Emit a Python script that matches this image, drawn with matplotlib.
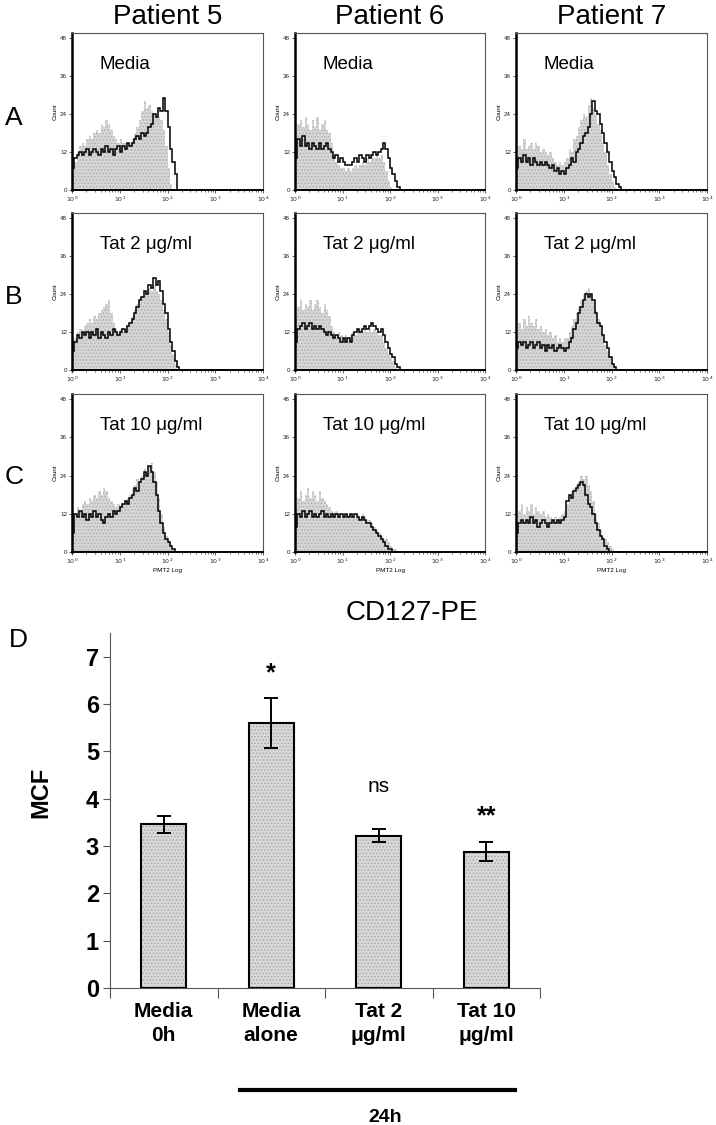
import numpy as np
import matplotlib
matplotlib.use('Agg')
import matplotlib.pyplot as plt
from matplotlib import font_manager as fm
from matplotlib.ticker import LogLocator, NullFormatter, FixedLocator

names = {f.name for f in fm.fontManager.ttflist}
SANS = 'Liberation Sans' if 'Liberation Sans' in names else 'DejaVu Sans'
NARROW = 'Liberation Sans Narrow' if 'Liberation Sans Narrow' in names else SANS
plt.rcParams['font.family'] = [SANS, 'DejaVu Sans']
plt.rcParams['hatch.linewidth'] = 0.7

# ---------------- data ----------------
patients = ['Patient 5', 'Patient 6', 'Patient 7']
row_letters = ['A', 'B', 'C']
conditions = ['Media', 'Tat 2 μg/ml', 'Tat 10 μg/ml']
bin_width_dec = 0.05          # histogram channel width in log10 decades
hist_ticks_y = [0, 12, 24, 36, 48]

gray_A5 = [7,9,12,14,15,14,16,17,16,18,19,18,21,20,22,21,19,17,16,15,16,15,15,14,15,16,18,20,22,25,28,26,27,25,24,23,23,22,19,14,7,2,0,0,0]
black_A5 = [7,10,11,12,11,12,13,11,12,13,12,11,13,12,14,12,13,11,13,14,12,14,13,15,14,15,16,17,16,18,17,18,20,21,24,23,26,25,29,25,20,13,9,5,0]
gray_A6 = [18,21,22,20,23,21,19,22,20,23,19,21,22,19,18,15,11,9,8,7,7,6,7,6,7,8,7,8,9,8,10,9,11,10,11,10,11,9,6,3,1,0,0,0,0]
black_A6 = [10,16,14,17,14,15,13,15,14,13,15,13,14,15,13,12,10,11,9,10,9,8,8,8,9,10,9,11,10,9,11,10,11,12,11,12,13,15,13,10,7,5,3,1,0]
gray_A7 = [11,14,13,16,13,14,15,13,15,14,12,13,12,11,12,10,9,8,9,8,9,10,13,12,16,17,20,22,24,23,27,29,26,24,21,19,15,12,8,5,3,1,0,0,0]
black_A7 = [7,10,9,11,9,10,8,10,9,8,9,8,9,8,7,8,6,7,5,6,5,7,8,10,9,12,13,15,17,18,20,24,28,25,24,21,18,15,12,9,6,4,2,1,0]
gray_B5 = [8,10,12,13,12,14,15,16,15,17,16,18,19,20,21,22,18,15,13,12,13,12,13,14,15,17,19,21,22,23,24,25,26,25,27,25,24,22,19,16,12,8,5,2,0]
black_B5 = [6,9,11,10,12,11,12,10,12,11,13,10,12,11,10,12,11,13,12,11,12,13,12,14,15,16,18,20,22,23,25,24,27,26,29,27,28,25,21,18,13,9,6,3,1]
gray_B6 = [17,20,22,19,21,20,22,19,21,22,20,18,21,19,17,14,12,11,12,11,10,11,10,11,12,11,12,13,12,13,12,13,12,13,12,11,11,9,7,5,4,3,1,0,0]
black_B6 = [9,13,14,15,13,14,15,13,14,13,14,13,12,11,12,11,10,11,10,9,10,9,10,9,11,12,13,12,13,14,13,14,15,14,13,12,13,11,9,7,5,4,2,1,0]
gray_B7 = [12,15,13,16,14,17,15,14,16,13,14,12,13,11,12,10,11,9,10,9,10,10,12,14,16,18,20,22,24,25,26,24,22,19,16,14,11,8,6,4,2,1,0,0,0]
black_B7 = [7,9,8,9,7,8,9,7,8,9,7,8,6,8,7,8,6,7,8,7,6,7,9,10,13,15,18,20,22,24,23,24,22,18,15,14,11,9,7,4,2,1,0,0,0]
gray_C5 = [9,12,14,13,15,16,15,17,16,18,17,19,18,20,19,17,16,15,14,15,14,15,16,17,18,20,21,23,22,24,26,25,27,28,25,22,17,12,8,5,3,2,1,0,0]
black_C5 = [6,12,11,13,11,12,10,12,11,13,11,12,10,9,11,12,11,13,12,13,14,15,16,15,17,18,20,19,22,23,25,24,27,25,22,18,13,9,6,4,3,2,1,0,0]
gray_C6 = [14,17,19,16,18,20,17,19,18,16,19,17,16,15,14,13,12,13,12,11,12,11,12,11,12,11,12,11,12,11,10,10,9,8,7,6,5,4,4,3,2,1,1,0,0]
black_C6 = [8,12,11,13,11,12,13,11,12,11,12,13,11,12,11,12,11,12,11,12,11,12,11,12,11,12,11,10,11,10,9,9,8,7,6,5,4,3,2,1,1,0,0,0,0]
gray_C7 = [10,13,15,12,14,13,15,12,14,13,12,13,11,12,11,10,11,10,11,12,13,15,17,19,20,21,22,24,23,24,21,19,16,12,9,7,5,4,3,2,1,0,0,0,0]
black_C7 = [6,9,10,9,10,9,11,9,10,8,9,10,9,8,9,10,9,10,9,10,11,16,18,17,19,20,21,22,21,18,15,14,12,9,7,5,4,2,1,0,0,0,0,0,0]

gray_hists = [[gray_A5, gray_A6, gray_A7], [gray_B5, gray_B6, gray_B7], [gray_C5, gray_C6, gray_C7]]
black_hists = [[black_A5, black_A6, black_A7], [black_B5, black_B6, black_B7], [black_C5, black_C6, black_C7]]

bar_categories = ['Media\n0h', 'Media\nalone', 'Tat 2\nμg/ml', 'Tat 10\nμg/ml']
bar_means = [3.46, 5.60, 3.22, 2.88]
bar_errors = [0.18, 0.52, 0.14, 0.20]
bar_sig = ['', '*', 'ns', '**']
bar_sig_y = [0, 6.65, 4.25, 3.62]
bar_ticks_y = [0, 1, 2, 3, 4, 5, 6, 7]

# ---------------- layout ----------------
W, H = 716, 1125
fig = plt.figure(figsize=(W / 100, H / 100), dpi=100)

def rect(x0, y0, x1, y1):
    return [x0 / W, 1 - y1 / H, (x1 - x0) / W, (y1 - y0) / H]

col_x = [(72, 263), (295, 485), (516, 707)]
row_y = [(33, 190), (213, 370), (394, 552)]

for r in range(3):
    for c in range(3):
        x0, x1 = col_x[c]
        y0, y1 = row_y[r]
        ax = fig.add_axes(rect(x0, y0, x1, y1))
        g = gray_hists[r][c]
        k = black_hists[r][c]
        ax.stairs(g, 10 ** (np.arange(len(g) + 1) * bin_width_dec), fill=True,
                  facecolor='#d6d6d6', edgecolor='#b0b0b0', hatch='.....', linewidth=0)
        ax.stairs(k, 10 ** (np.arange(len(k) + 1) * bin_width_dec),
                  color='black', linewidth=1.1)
        ax.set_xscale('log')
        ax.set_xlim(1, 1e4)
        ax.set_ylim(0, 49.6)
        ax.set_yticks(hist_ticks_y)
        ax.set_yticklabels([str(v) for v in hist_ticks_y])
        ax.xaxis.set_major_locator(FixedLocator([1, 10, 100, 1000, 10000]))
        ax.set_xticklabels([r'$10^{0}$', r'$10^{1}$', r'$10^{2}$', r'$10^{3}$', r'$10^{4}$'])
        ax.xaxis.set_minor_locator(LogLocator(base=10, subs=np.arange(2, 10)))
        ax.xaxis.set_minor_formatter(NullFormatter())
        ax.tick_params(axis='both', which='major', labelsize=4.5, length=2,
                       width=0.5, pad=1.5, colors='#222222')
        ax.tick_params(axis='x', which='minor', length=1.2, width=0.4)
        for s in ['top', 'right']:
            ax.spines[s].set_color('#555555')
            ax.spines[s].set_linewidth(0.8)
        ax.spines['left'].set_linewidth(1.8)
        ax.spines['bottom'].set_linewidth(1.4)
        ax.set_ylabel('Count', fontsize=4.5, labelpad=1.5)
        if r == 2:
            ax.set_xlabel('PMT2 Log', fontsize=4.5, labelpad=1)
        ax.text(0.145, 0.80, conditions[r], transform=ax.transAxes,
                fontsize=13.5, ha='left', va='center')

for c in range(3):
    xc = (col_x[c][0] + col_x[c][1]) / 2
    fig.text(xc / W, 1 - 17 / H, patients[c], fontsize=20, ha='center', va='center')

for r in range(3):
    yc = [118, 297, 477][r]
    fig.text(14 / W, 1 - yc / H, row_letters[r], fontsize=19, ha='center', va='center')

fig.text(412 / W, 1 - 613 / H, 'CD127-PE', fontsize=20, ha='center', va='center')
fig.text(18 / W, 1 - 640 / H, 'D', fontsize=19, ha='center', va='center')

# ---------------- bar chart ----------------
axb = fig.add_axes(rect(110, 633, 540, 988))
xpos = np.arange(1, len(bar_means) + 1)
axb.bar(xpos, bar_means, width=0.42, color='#d9d9d9', edgecolor='#a8a8a8',
        hatch='.....', linewidth=0, zorder=2)
axb.bar(xpos, bar_means, width=0.42, facecolor='none', edgecolor='black',
        linewidth=1.5, zorder=3)
axb.errorbar(xpos, bar_means, yerr=bar_errors, fmt='none', ecolor='black',
             elinewidth=1.4, capsize=5, capthick=1.4, zorder=4)
axb.set_xlim(0.5, len(bar_means) + 0.5)
axb.set_ylim(0, 7.5)
axb.set_yticks(bar_ticks_y)
axb.set_yticklabels([str(v) for v in bar_ticks_y], fontsize=17,
                    fontweight='bold', family=NARROW)
axb.xaxis.set_major_locator(FixedLocator(np.arange(0.5, len(bar_means) + 1.0, 1.0)))
axb.xaxis.set_major_formatter(NullFormatter())
axb.xaxis.set_minor_locator(FixedLocator(xpos))
axb.set_xticklabels(bar_categories, minor=True, fontsize=15, fontweight='bold',
                    family=NARROW, linespacing=1.35)
axb.tick_params(axis='x', which='major', length=7, width=0.8, direction='out', color='#555555')
axb.tick_params(axis='x', which='minor', length=0, pad=10)
axb.tick_params(axis='y', length=5, width=0.8, color='#555555', pad=3)
for s in ['top', 'right']:
    axb.spines[s].set_visible(False)
axb.spines['left'].set_color('#555555')
axb.spines['bottom'].set_color('#555555')
axb.spines['left'].set_linewidth(0.8)
axb.spines['bottom'].set_linewidth(0.8)
axb.set_ylabel('MCF', fontsize=17, fontweight='bold')
axb.yaxis.set_label_coords(-0.135, 0.55)

for xi, lab, yv in zip(xpos, bar_sig, bar_sig_y):
    if not lab:
        continue
    if lab == 'ns':
        axb.text(xi, yv, lab, ha='center', va='center', fontsize=15, family=NARROW)
    else:
        axb.text(xi, yv, lab, ha='center', va='center', fontsize=18, fontweight='bold')

fig.add_artist(plt.Line2D([240 / W, 515 / W], [1 - 1090 / H, 1 - 1090 / H],
                          color='black', linewidth=3))
fig.text(385 / W, 1 - 1117 / H, '24h', fontsize=14, fontweight='bold',
         ha='center', va='center', family=NARROW)

fig.savefig('out.png', dpi=100)
